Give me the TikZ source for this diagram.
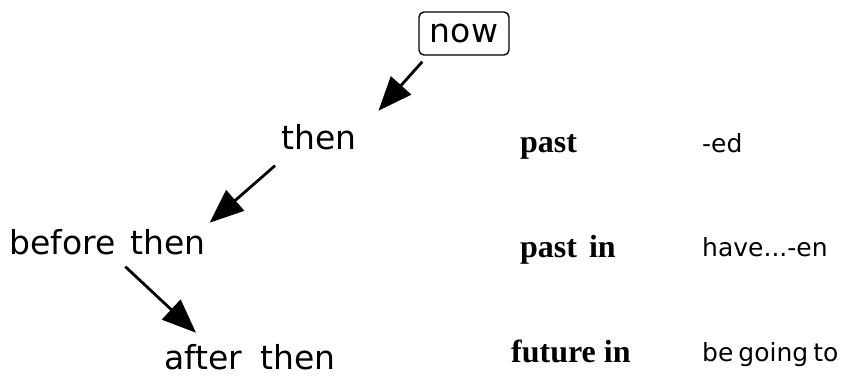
\documentclass[tikz,border=0pt]{standalone}
\usepackage{fontspec}
\newfontfamily\lblfont{DejaVu Sans}
\newfontfamily\serfont{Liberation Serif}
\usetikzlibrary{arrows.meta}
\begin{document}
\begin{tikzpicture}[x=1pt,y=-1pt,
  lbl/.style={inner sep=0pt,anchor=base west,font=\lblfont\fontsize{33}{33}\selectfont},
  tense/.style={inner sep=0pt,anchor=base west,font=\serfont\bfseries\fontsize{32}{32}\selectfont},
  form/.style={inner sep=0pt,anchor=base west,font=\lblfont\fontsize{25}{25}\selectfont},
  arr/.style={line width=2.8pt,-{Triangle[length=34pt,width=27pt]}}]
\useasboundingbox (0,0) rectangle (847,379);
\node[draw,line width=1.4pt,rounded corners=5pt,minimum width=90pt,minimum height=43pt,inner sep=0pt,
  font=\lblfont\fontsize{33}{33}\selectfont] (now) at (464,33.5) {now};
\node[lbl] (then) at (281,150) {then};
\node[lbl] (before) at (9,255) {before\hspace{15pt}then};
\node[lbl] (after) at (164,370) {after\hspace{18pt}then};
\node[tense] (past) at (520,153) {past};
\node[tense] (pastin) at (520,258) {past\hspace{12pt}in};
\node[tense] (futin) at (511,363) {future\hspace{8pt}in};
\node[form] (ed) at (702,153) {-ed};
\node[form] (have) at (702,257) {have...-en};
\node[form] (going) at (702,362) {be\hspace{5pt}going\hspace{5pt}to};
\draw[arr] ([shift={(4,6)}]now.south west) -- ([shift={(22,-14)}]then.north east);
\draw[arr] ([shift={(-6,15)}]then.south west) -- ([shift={(4,-7)}]before.north east);
\draw[arr] ([shift={(18,11)}]before.south) -- ([shift={(32,-12)}]after.north west);
\end{tikzpicture}
\end{document}
